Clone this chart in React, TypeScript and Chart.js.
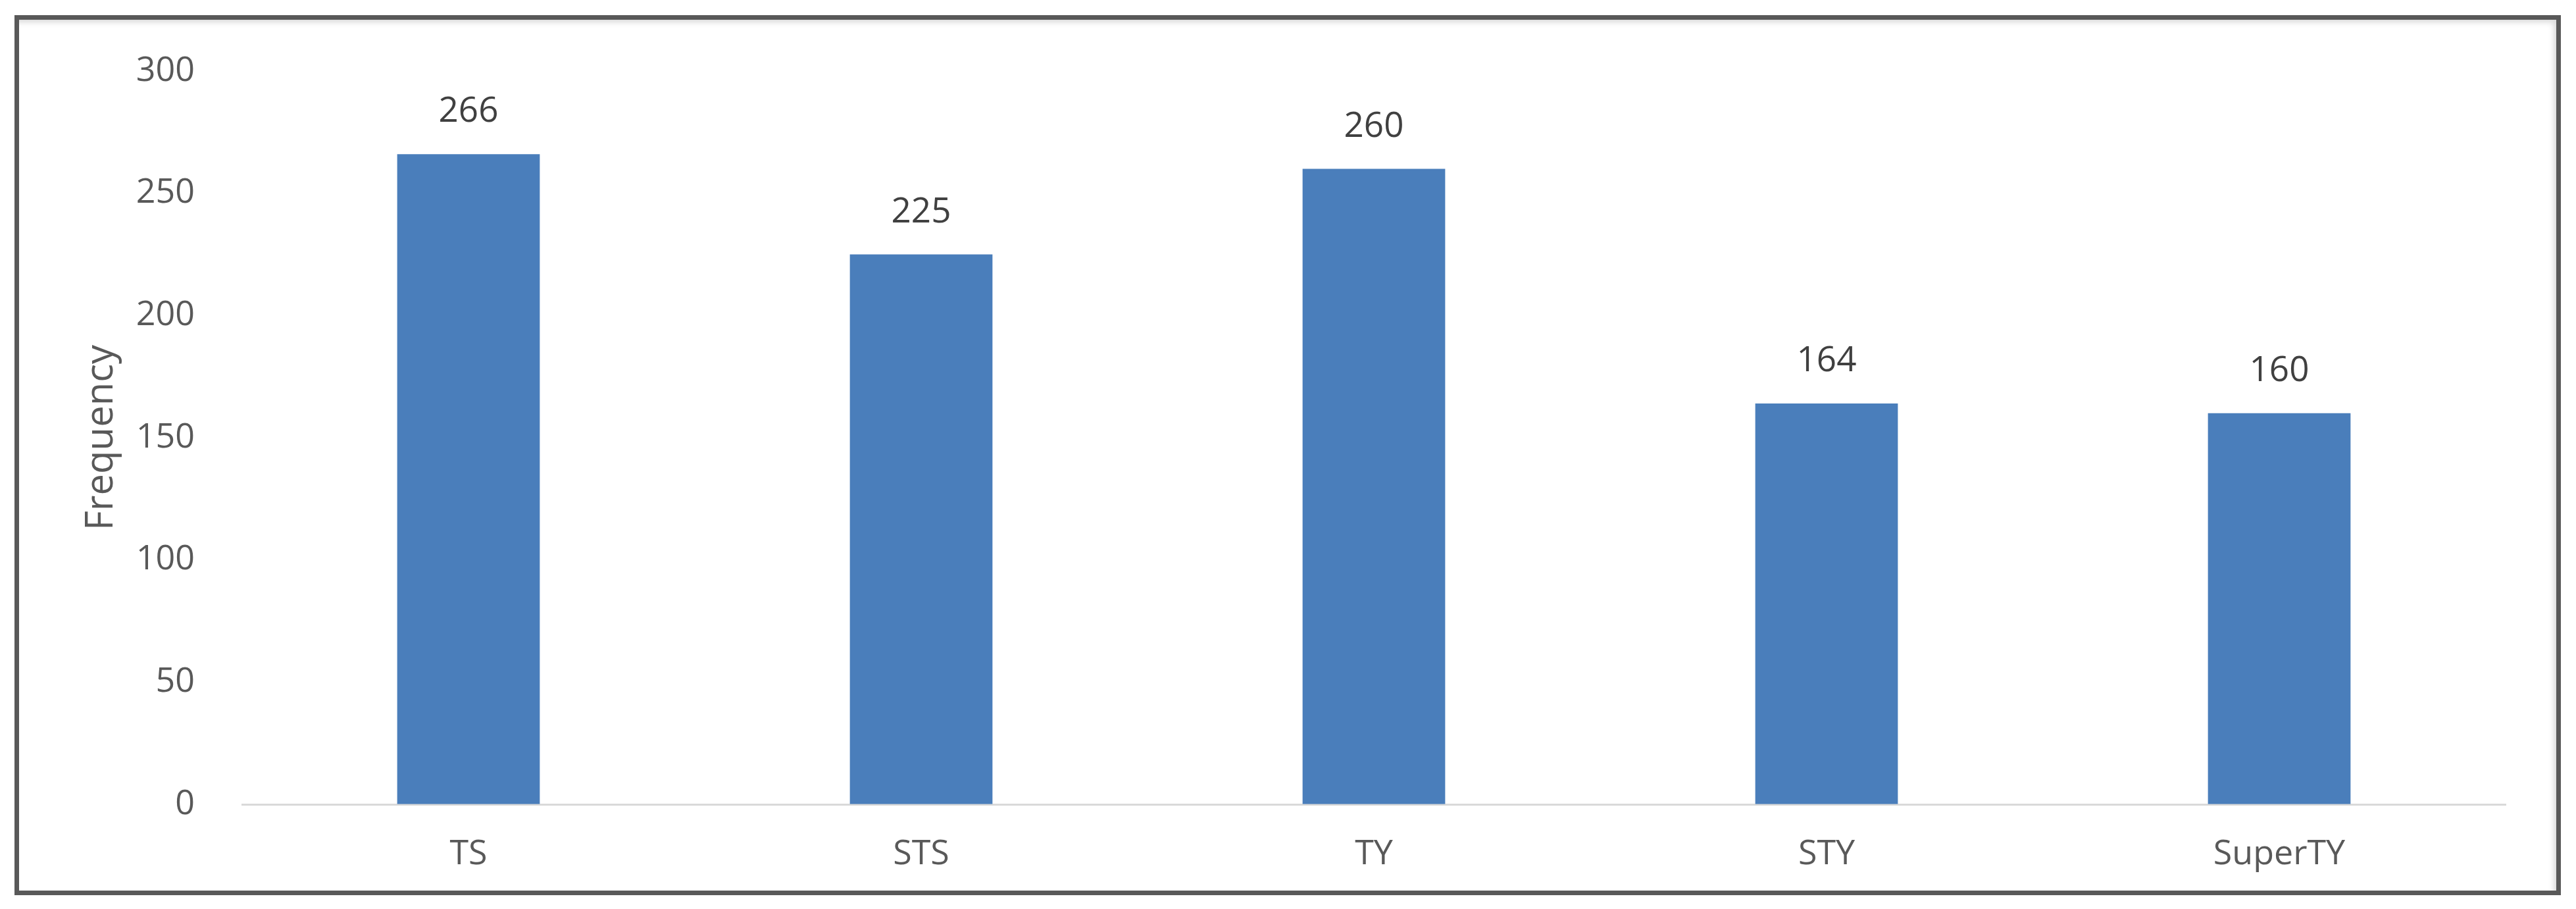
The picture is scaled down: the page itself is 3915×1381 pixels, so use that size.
import React, { useEffect, useRef } from "react";
import { Chart, registerables } from "chart.js";

Chart.register(...registerables);

const categories = ["TS", "STS", "TY", "STY", "SuperTY"];
const frequencies = [266, 225, 260, 164, 160];
const yTicks = [0, 50, 100, 150, 200, 250, 300];
const yTitle = "Frequency";

const FONT = "'Open Sans', 'Noto Sans', sans-serif";

const valueLabels = {
  id: "valueLabels",
  afterDatasetsDraw(chart: any) {
    const ctx = chart.ctx;
    const meta = chart.getDatasetMeta(0);
    ctx.save();
    ctx.font = `53px ${FONT}`;
    ctx.fillStyle = "#404040";
    ctx.textAlign = "center";
    ctx.textBaseline = "middle";
    meta.data.forEach((bar: any, i: number) => {
      ctx.fillText(String(frequencies[i]), bar.x, bar.y - 64);
    });
    ctx.restore();
  },
};

export default function App() {
  const ref = useRef<HTMLCanvasElement | null>(null);
  useEffect(() => {
    if (!ref.current) return;
    const chart = new Chart(ref.current, {
      type: "bar",
      data: {
        labels: categories,
        datasets: [
          {
            data: frequencies,
            backgroundColor: "#4a7ebb",
            borderWidth: 0,
            barPercentage: 0.315,
            categoryPercentage: 1,
          },
        ],
      },
      options: {
        animation: false,
        responsive: false,
        maintainAspectRatio: false,
        devicePixelRatio: 1,
        layout: { padding: { top: 78, right: 77, left: 0, bottom: 0 } },
        plugins: { legend: { display: false }, tooltip: { enabled: false } },
        scales: {
          x: {
            grid: { display: false, drawTicks: false, tickLength: 0 },
            border: { display: true, color: "#d9d9d9", width: 3 },
            ticks: {
              color: "#595959",
              font: { family: FONT, size: 52 },
              padding: 45,
              maxRotation: 0,
            },
            afterFit(scale: any) {
              scale.height = 131;
            },
          },
          y: {
            min: 0,
            max: 300,
            grid: {
              display: true,
              drawOnChartArea: false,
              drawTicks: true,
              tickLength: 72,
              color: "rgba(0,0,0,0)",
            },
            border: { display: false },
            afterBuildTicks(scale: any) {
              scale.ticks = yTicks.map((v) => ({ value: v }));
            },
            ticks: {
              color: "#595959",
              font: { family: FONT, size: 52 },
              padding: 0,
            },
            title: {
              display: true,
              text: yTitle,
              color: "#595959",
              font: { family: FONT, size: 58 },
              padding: { top: 91, bottom: 0 },
            },
            afterFit(scale: any) {
              scale.width = 339;
            },
          },
        },
      },
      plugins: [valueLabels],
    });
    return () => chart.destroy();
  }, []);

  return (
    <div
      style={{
        position: "absolute",
        left: 22,
        top: 23,
        width: 3870,
        height: 1337,
        border: "7px solid #595959",
        boxSizing: "border-box",
        background: "#fff",
        boxShadow: "inset -8px 8px 8px -4px rgba(0,0,0,0.15)",
      }}
    >
      <canvas ref={ref} width={3856} height={1323} style={{ display: "block" }} />
    </div>
  );
}
